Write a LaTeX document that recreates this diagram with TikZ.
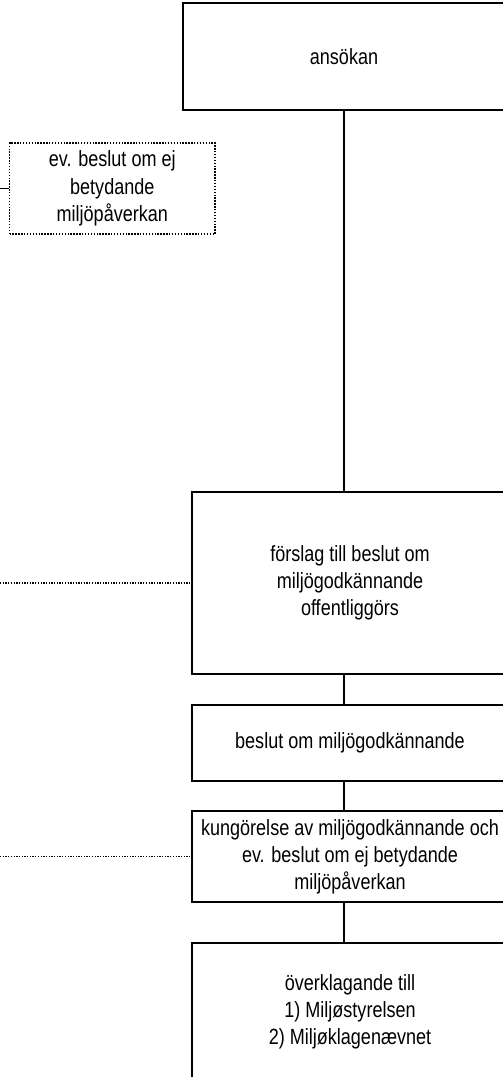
\documentclass[tikz,border=0pt]{standalone}
\usepackage{fontspec}
\setmainfont{Liberation Sans}[FakeStretch=0.82]
\begin{document}
\begin{tikzpicture}[x=1pt,y=-1pt,
  box/.style={draw=black,line width=1.6pt,inner sep=0pt,align=center,
    font=\fontsize{22}{27}\selectfont},
  dotbox/.style={draw=black,line width=1.4pt,dash pattern=on 1.4pt off 1.5pt,
    inner sep=0pt,align=center,font=\fontsize{22}{27.5}\selectfont},
  conn/.style={line width=1.6pt},
  dotline/.style={line width=1.3pt,dash pattern=on 1.3pt off 1.4pt}]
\clip (0,0) rectangle (503,1077);
\useasboundingbox (0,0) rectangle (503,1077);
\node[box,minimum width=322pt,minimum height=107pt] (ans) at (344,56.5) {ansökan};
\node[dotbox,minimum width=205.5pt,minimum height=91pt] (evb) at (112.3,188.5)
  {ev. beslut om ej\\betydande\\miljöpåverkan};
\node[box,minimum width=316pt,minimum height=182pt] (fors) at (350,583)
  {förslag till beslut om\\ miljögodkännande\\offentliggörs};
\node[box,minimum width=316pt,minimum height=76pt] (bes) at (350,743)
  {beslut om miljögodkännande};
\node[box,minimum width=316pt,minimum height=91pt] (kung) at (350,856.5)
  {kungörelse av miljögodkännande och\\ev. beslut om ej betydande\\miljöpåverkan};
\node[box,minimum width=316pt,minimum height=137pt] (over) at (350,1011.5)
  {överklagande till\\1) Miljøstyrelsen\\2) Miljøklagenævnet};
\coordinate (l0) at (0,188.5);
\coordinate (l1) at (0,583);
\coordinate (l2) at (0,856.5);
\draw[conn] (ans.south) -- (ans.south |- fors.north);
\draw[conn] (ans.south |- fors.south) -- (ans.south |- bes.north);
\draw[conn] (ans.south |- bes.south) -- (ans.south |- kung.north);
\draw[conn] (ans.south |- kung.south) -- (ans.south |- over.north);
\draw[conn] (l0) -- (evb.west);
\draw[dotline] (l1) -- (fors.west);
\draw[dotline] (l2) -- (kung.west);
\end{tikzpicture}
\end{document}
